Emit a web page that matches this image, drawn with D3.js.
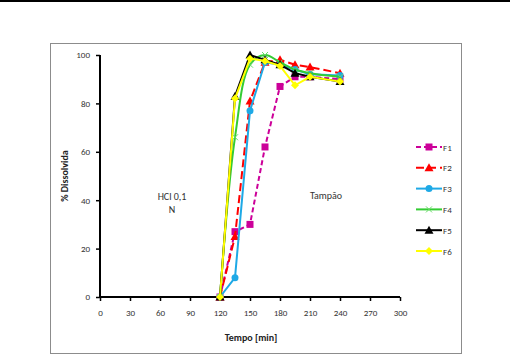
<!DOCTYPE html>
<html>
<head>
<meta charset="utf-8">
<script src="https://cdn.jsdelivr.net/npm/d3@7"></script>
<style>
html,body{margin:0;padding:0;background:#fff;}
svg{display:block;font-family:Calibri,"Liberation Sans","DejaVu Sans",sans-serif;}
</style>
</head>
<body>
<svg id="chart" width="510" height="356"></svg>
<script>
const times = [120, 135, 150, 165, 180, 195, 210, 240];
const F1 = [0, 27, 30, 62, 87, 91, 91, 90];
const F2 = [0, 25, 81, 97, 98, 96, 95, 92.5];
const F3 = [0, 8, 77, 97, 96, 94, 92, 91.5];
const F4 = [0, 66, 96, 100, 97, 94, 92.5, 91];
const F5 = [0, 83, 100, 98, 96, 92.5, 91, 89];
const F6 = [0, 82, 98.5, 97.5, 95.5, 87.5, 91, 89];
const seriesNames = ["F1", "F2", "F3", "F4", "F5", "F6"];
const xTicks = [0, 30, 60, 90, 120, 150, 180, 210, 240, 270, 300];
const yTicks = [0, 20, 40, 60, 80, 100];

const seriesData = [F1, F2, F3, F4, F5, F6];
const styles = [
  {color: "#CC0099", dash: "5,3", marker: "square", curve: d3.curveLinear},
  {color: "#FF0000", dash: "8,4", marker: "triangle", curve: d3.curveLinear},
  {color: "#1EA9E6", dash: null, marker: "circle", curve: d3.curveLinear},
  {color: "#33CC33", dash: null, marker: "x", curve: d3.curveCatmullRom},
  {color: "#000000", dash: null, marker: "triangle", curve: d3.curveLinear},
  {color: "#FFFF00", dash: null, marker: "diamond", curve: d3.curveLinear}
];

const svg = d3.select("#chart");
svg.append("rect").attr("x", 0).attr("y", 0).attr("width", 510).attr("height", 2).attr("fill", "#000");
svg.append("rect").attr("x", 50.5).attr("y", 43.5).attr("width", 411).attr("height", 310)
  .attr("fill", "none").attr("stroke", "#8c8c8c").attr("stroke-width", 1);

const x = d3.scaleLinear().domain([0, 300]).range([100, 400]);
const y = d3.scaleLinear().domain([0, 100]).range([297, 55]);

const xAxis = svg.append("g").attr("transform", "translate(0,297)")
  .call(d3.axisBottom(x).tickValues(xTicks).tickSize(4).tickPadding(9));
const yAxis = svg.append("g").attr("transform", "translate(100,0)")
  .call(d3.axisLeft(y).tickValues(yTicks).tickSize(4).tickPadding(6));
[xAxis, yAxis].forEach(g => {
  g.select(".domain").attr("stroke", "#000").attr("stroke-width", 2);
  g.selectAll(".tick line").attr("stroke", "#000").attr("stroke-width", 1.5);
  g.selectAll(".tick text").attr("fill", "#333").style("font-size", "9px")
    .style("font-family", "Calibri,'Liberation Sans','DejaVu Sans',sans-serif");
});
yAxis.select(".domain").attr("d", "M0,297V55");
xAxis.select(".domain").attr("d", "M0,0H300").attr("transform", "translate(100,0)");

svg.append("text").attr("x", 251).attr("y", 341).attr("text-anchor", "middle")
  .style("font-size", "10px").style("font-weight", "bold").attr("fill", "#222").text("Tempo [min]");
svg.append("text").attr("transform", "translate(68,176) rotate(-90)").attr("text-anchor", "middle")
  .style("font-size", "10px").style("font-weight", "bold").attr("fill", "#222").text("% Dissolvida");

svg.append("text").attr("x", 172).attr("y", 200).attr("text-anchor", "middle")
  .style("font-size", "10px").attr("fill", "#333").text("HCl 0,1");
svg.append("text").attr("x", 172).attr("y", 213).attr("text-anchor", "middle")
  .style("font-size", "10px").attr("fill", "#333").text("N");
svg.append("text").attr("x", 326).attr("y", 199).attr("text-anchor", "middle")
  .style("font-size", "10px").attr("fill", "#333").text("Tampão");

function drawMarker(g, type, cx, cy, color) {
  if (type === "square") {
    g.append("rect").attr("x", cx - 3.5).attr("y", cy - 3.5).attr("width", 7).attr("height", 7).attr("fill", color);
  } else if (type === "triangle") {
    g.append("path").attr("d", `M${cx},${cy - 4.5}L${cx + 4.5},${cy + 3.5}L${cx - 4.5},${cy + 3.5}Z`).attr("fill", color);
  } else if (type === "circle") {
    g.append("circle").attr("cx", cx).attr("cy", cy).attr("r", 3.5).attr("fill", color);
  } else if (type === "diamond") {
    g.append("path").attr("d", `M${cx},${cy - 4}L${cx + 4},${cy}L${cx},${cy + 4}L${cx - 4},${cy}Z`).attr("fill", color);
  } else if (type === "x") {
    g.append("path").attr("d", `M${cx - 3},${cy - 3}L${cx + 3},${cy + 3}M${cx - 3},${cy + 3}L${cx + 3},${cy - 3}`)
      .attr("stroke", "#66DD66").attr("stroke-width", 1).attr("fill", "none");
  }
}

seriesData.forEach((vals, i) => {
  const st = styles[i];
  const pts = times.map((t, j) => [t, vals[j]]);
  const line = d3.line().x(d => x(d[0])).y(d => y(d[1])).curve(st.curve);
  const g = svg.append("g");
  g.append("path").attr("d", line(pts)).attr("fill", "none").attr("stroke", st.color)
    .attr("stroke-width", 2).attr("stroke-dasharray", st.dash);
  pts.forEach(p => drawMarker(g, st.marker, x(p[0]), y(p[1]), st.color));
});

const legY = d3.scaleLinear().domain([0, 5]).range([147, 251]);
seriesNames.forEach((name, i) => {
  const st = styles[i];
  const g = svg.append("g");
  const yy = legY(i);
  g.append("line").attr("x1", 416).attr("x2", 442).attr("y1", yy).attr("y2", yy)
    .attr("stroke", st.color).attr("stroke-width", 2).attr("stroke-dasharray", st.dash);
  drawMarker(g, st.marker, 429, yy, st.color);
  g.append("text").attr("x", 443).attr("y", yy + 3.5).style("font-size", "9px").attr("fill", "#333").text(name);
});
</script>
</body>
</html>
